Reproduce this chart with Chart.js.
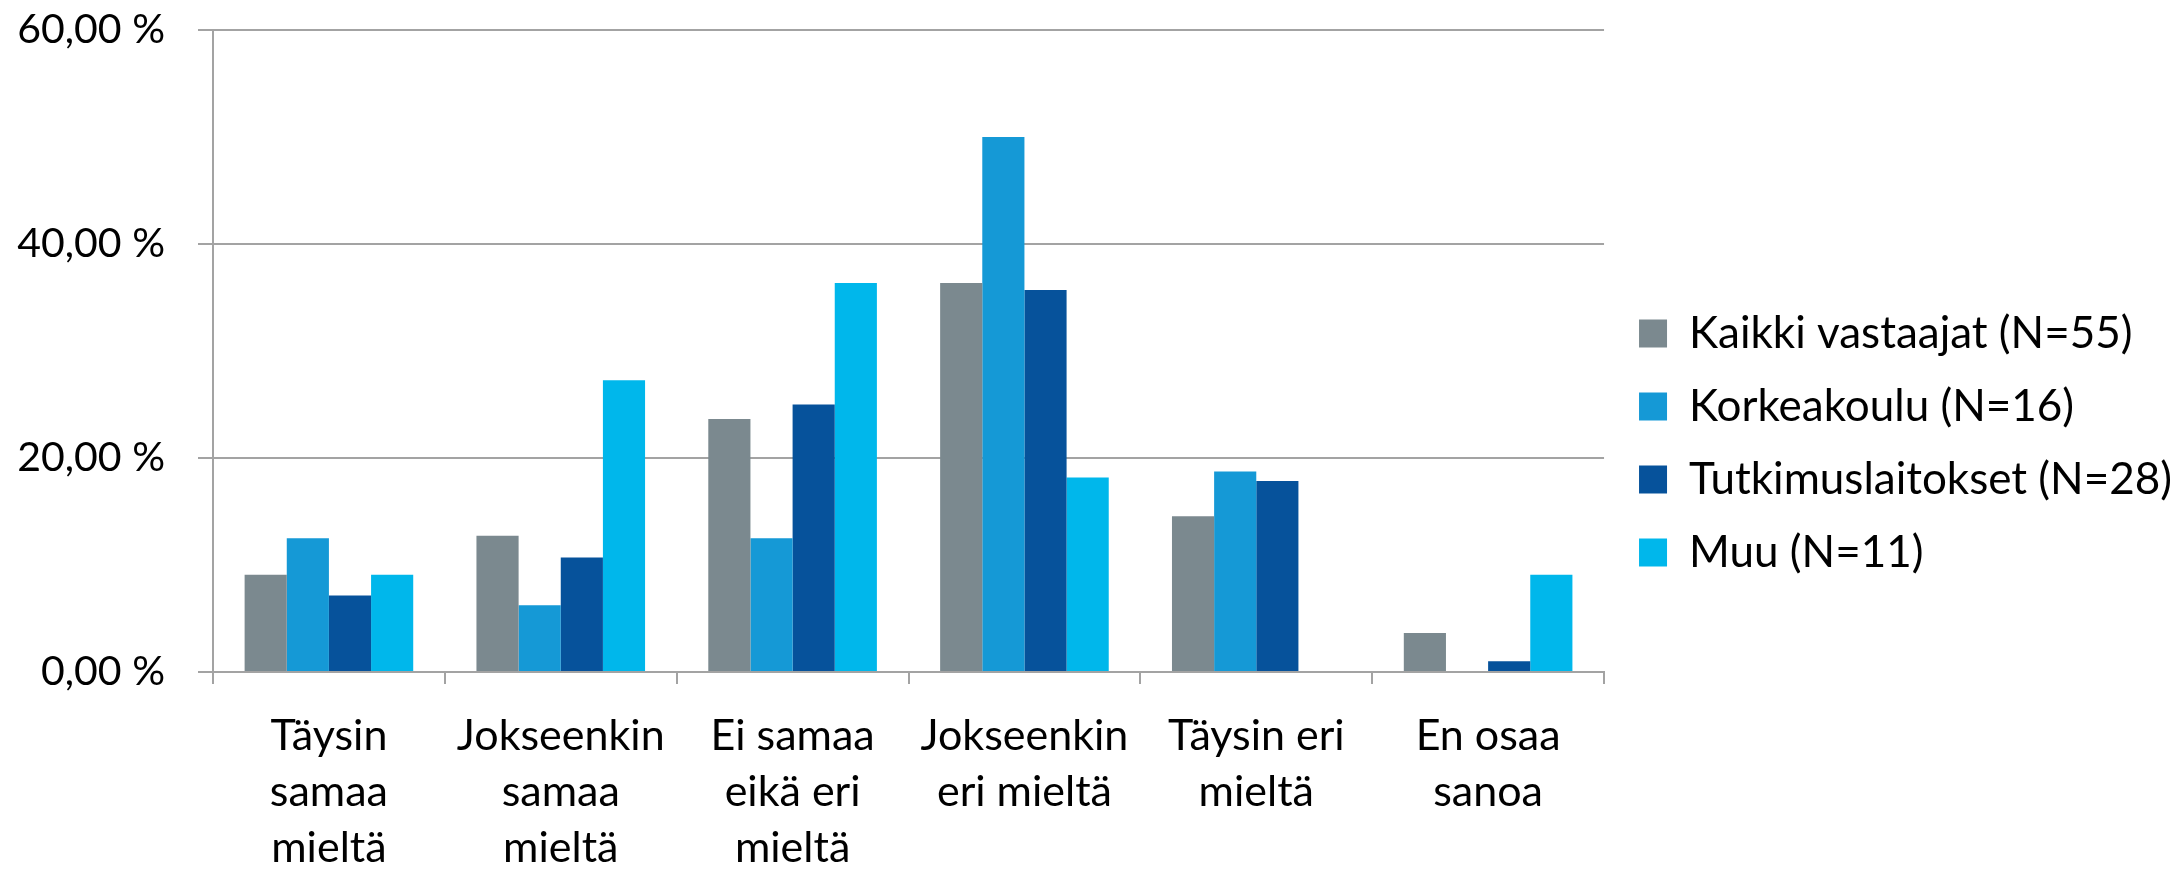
<!DOCTYPE html>
<html><head><meta charset="utf-8">
<script src="https://cdn.jsdelivr.net/npm/chart.js@4/dist/chart.umd.min.js"></script>
<style>html,body{margin:0;padding:0;background:#fff}#wrap{width:2182px;height:870px}</style>
</head><body><div id="wrap"><canvas id="c" width="2182" height="870"></canvas></div>
<script>
const categories = [["Täysin","samaa","mieltä"],["Jokseenkin","samaa","mieltä"],["Ei samaa","eikä eri","mieltä"],["Jokseenkin","eri mieltä"],["Täysin eri","mieltä"],["En osaa","sanoa"]];
const seriesNames = ["Kaikki vastaajat (N=55)","Korkeakoulu (N=16)","Tutkimuslaitokset (N=28)","Muu (N=11)"];
const kaikki = [9.09,12.73,23.64,36.36,14.55,3.64];
const korkeakoulu = [12.5,6.25,12.5,50.0,18.75,0];
const tutkimus = [7.14,10.71,25.0,35.71,17.86,1.0];
const muu = [9.09,27.27,36.36,18.18,0,9.09];
const yTicks = [0,20,40,60];
const colors = ["#7B898F","#1599D6","#06529B","#00B7EB"];

const YFONT = {family:"Lato", size:41, lineHeight:1.36};
const XFONT = {family:"Lato", size:43, lineHeight:1.3};
const LFONT = {family:"Lato", size:44, lineHeight:1.2};
const GRID = "#a3a3a3";
const seriesValues = [kaikki, korkeakoulu, tutkimus, muu];

// empty layout box that keeps a gap between the plot area and the legend
const spacerPlugin = {
  id:'spacer',
  beforeInit(chart){
    Chart.layouts.addBox(chart, {
      position:'right', weight:500, fullSize:false, options:{},
      left:0, top:0, right:0, bottom:0, width:0, height:0,
      isHorizontal(){return false;},
      update(maxW, maxH){ this.width = 6; this.height = maxH; },
      getPadding(){ return {top:0,left:0,right:0,bottom:0}; },
      draw(){}
    });
  }
};

new Chart(document.getElementById('c'), {
  type:'bar',
  data:{
    labels:categories,
    datasets: seriesNames.map((n,i)=>({label:n, data:seriesValues[i], backgroundColor:colors[i], borderWidth:0, categoryPercentage:4/5.5, barPercentage:1}))
  },
  plugins:[spacerPlugin],
  options:{
    responsive:false, animation:false, devicePixelRatio:1,
    layout:{padding:{top:0,right:0,left:0,bottom:0}},
    plugins:{
      tooltip:{enabled:false},
      legend:{position:'right', align:'center', maxWidth:800,
        title:{display:true, text:' ', font:{size:8, lineHeight:1}, padding:{top:4,bottom:4}},
        labels:{font:LFONT, color:'#000', boxWidth:28, boxHeight:28, padding:29}}
    },
    scales:{
      x:{
        grid:{display:true, drawOnChartArea:false, drawTicks:true, tickLength:12, color:GRID, lineWidth:2, offset:true},
        border:{display:true, color:GRID, width:2},
        ticks:{font:XFONT, color:'#000', padding:24, maxRotation:0, autoSkip:false},
        afterFit:(s)=>{s.height=198;}
      },
      y:{
        min:0, max:60,
        afterBuildTicks:(s)=>{s.ticks=yTicks.map(v=>({value:v}));},
        grid:{color:GRID, lineWidth:2, tickLength:15, drawTicks:true},
        border:{display:true, color:GRID, width:2},
        ticks:{font:YFONT, color:'#000', padding:33, callback:(v)=>v.toFixed(2).replace('.',',')+' %'},
        afterFit:(s)=>{s.width=213; s.paddingTop=30; s.paddingBottom=0;}
      }
    }
  }
});
</script></body></html>
